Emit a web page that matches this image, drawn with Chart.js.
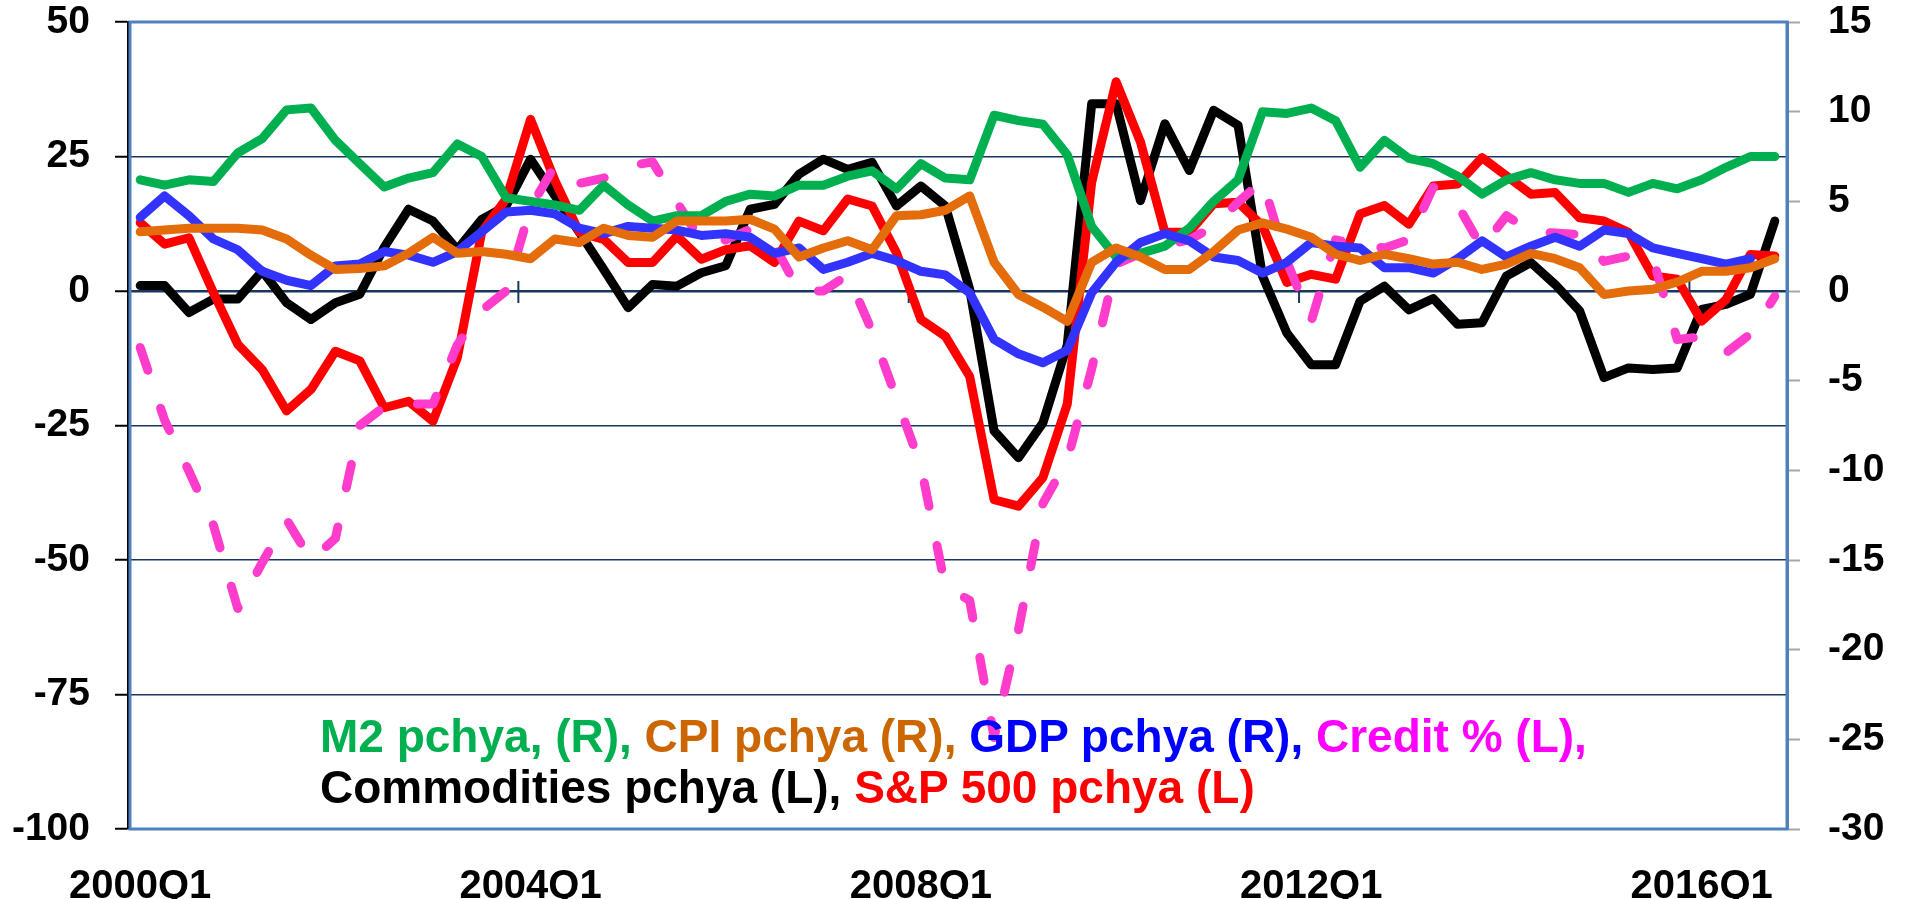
<!DOCTYPE html>
<html>
<head>
<meta charset="utf-8">
<title>M2, CPI, GDP, Credit, Commodities, S&amp;P 500</title>
<script src="https://cdn.jsdelivr.net/npm/chart.js@4.4.1/dist/chart.umd.min.js"></script>
<style>
  html, body { margin: 0; padding: 0; background: #fff; overflow: hidden; }
  #wrap { position: relative; width: 1905px; height: 899px; }
  #legend {
    position: absolute; left: 320px; top: 711px;
    font: bold 46px "Liberation Sans", Arial, sans-serif;
    line-height: 51px; white-space: nowrap;
  }
</style>
</head>
<body>
<div id="wrap">
  <canvas id="chart" width="1905" height="899"></canvas>
  <div id="legend">
    <span style="color:#00B050">M2 pchya, (R),</span> <span style="color:#CC6600">CPI pchya (R),</span> <span style="color:#0000FF">GDP pchya (R),</span> <span style="color:#FF00FF">Credit % (L),</span><br>
    <span style="color:#000">Commodities pchya (L),</span> <span style="color:#FF0000">S&amp;P 500 pchya (L)</span>
  </div>
</div>
<script>
// quarters 2000Q1 .. 2016Q4
var years = [2000, 2001, 2002, 2003, 2004, 2005, 2006, 2007, 2008,
             2009, 2010, 2011, 2012, 2013, 2014, 2015, 2016];
var quarters = [];
years.forEach(y => ['Q1', 'Q2', 'Q3', 'Q4'].forEach(q => quarters.push(y + q)));

var xTickLabels = ['2000Q1', '2004Q1', '2008Q1', '2012Q1', '2016Q1'];
var leftTicks = [-100, -75, -50, -25, 0, 25, 50];
var rightTicks = [-30, -25, -20, -15, -10, -5, 0, 5, 10, 15];

// right axis series (% yoy)
var m2 = [
  6.2, 5.9, 6.2, 6.1, 7.7, 8.5, 10.1, 10.2, 8.4, 7.1,
  5.8, 6.3, 6.6, 8.2, 7.5, 5.2, 5.0, 4.8, 4.5, 5.9,
  4.8, 3.9, 4.2, 4.2, 5.0, 5.4, 5.3, 5.9, 5.9, 6.4,
  6.7, 5.7, 7.1, 6.3, 6.2, 9.8, 9.5, 9.3, 7.6, 3.6,
  1.9, 2.1, 2.5, 3.5, 5.0, 6.2, 10.0, 9.9, 10.2, 9.5,
  6.9, 8.4, 7.4, 7.1, 6.4, 5.4, 6.2, 6.6, 6.2, 6.0,
  6.0, 5.5, 6.0, 5.7, 6.2, 6.9, 7.5, 7.5
];
var cpi = [
  3.3, 3.4, 3.5, 3.5, 3.5, 3.4, 2.9, 2.0, 1.2, 1.25,
  1.4, 2.1, 3.0, 2.1, 2.2, 2.05, 1.8, 2.9, 2.7, 3.5,
  3.1, 3.0, 3.9, 3.9, 3.9, 4.0, 3.45, 1.9, 2.4, 2.8,
  2.3, 4.2, 4.25, 4.5, 5.3, 1.6, -0.2, -0.9, -1.7, 1.6,
  2.4, 1.9, 1.2, 1.2, 2.2, 3.4, 3.8, 3.45, 3.0, 2.05,
  1.7, 2.05, 1.8, 1.5, 1.6, 1.2, 1.5, 2.1, 1.8, 1.3,
  -0.2, 0.0, 0.1, 0.5, 1.1, 1.1, 1.3, 1.8
];
var gdp = [
  4.1, 5.3, 4.2, 2.9, 2.3, 1.1, 0.6, 0.3, 1.4, 1.5,
  2.2, 2.0, 1.6, 2.2, 3.3, 4.4, 4.5, 4.3, 3.5, 3.2,
  3.6, 3.5, 3.4, 3.1, 3.2, 3.0, 2.1, 2.4, 1.2, 1.6,
  2.1, 1.7, 1.1, 0.9, -0.1, -2.7, -3.5, -4.0, -3.3, -0.1,
  1.6, 2.7, 3.2, 2.8, 1.9, 1.7, 1.0, 1.6, 2.7, 2.5,
  2.4, 1.3, 1.3, 1.0, 1.8, 2.8, 1.9, 2.5, 3.0, 2.5,
  3.4, 3.2, 2.4, 2.1, 1.8, 1.5, 1.8, null
];

// left axis series
var credit = [
  -10.5, -24, -33.5, -43.5, -59, -50.5, -42.5, -50, -46, -25,
  -21.5, -21, -21, -10, -3.6, 0, 15.5, 23.3, 20, 21,
  23.2, 24, 16.5, 9.3, 9.5, 11.5, 8.5, 0, 0, 3,
  -7.5, -20, -32.5, -55, -57.5, -83, -63, -39.5, -31.5, -14.5,
  5, 7, 8.5, 9.5, 12, 16.5, 20.5, 5.5, -5.6, 9.5,
  8.5, 8, 9.5, 19.3, 16, 8, 14, 11, 10.8, 10.5,
  5.5, 6.5, 6, -9, -8.5, -11.5, -8, -1
];
var commodities = [
  1, 1, -4, -1.5, -1.5, 3.7, -2.2, -5.3, -2.2, -0.6,
  8.1, 15.2, 13, 7.7, 13.3, 15.8, 24.5, 17.7, 10.9, 4,
  -3.1, 1.2, 0.9, 3.4, 4.7, 15.2, 16.1, 21.7, 24.5, 22.6,
  23.9, 15.8, 19.5, 15.8, 0.3, -26, -31, -24.5, -10, 34.8,
  34.8, 16.8, 31.1, 22.4, 33.6, 30.8, 2.8, -7.8, -13.7, -13.7,
  -1.9, 0.9, -3.5, -1.4, -6.2, -5.9, 2.8, 5.3, 1.2, -3.7,
  -16.1, -14.3, -14.6, -14.3, -3.4, -2.5, -0.6, 13
];
var sp500 = [
  12.7, 8.7, 9.9, -0.3, -9.9, -14.6, -22.3, -18.3, -11.2, -13.0,
  -21.7, -20.5, -24.2, -12.4, 11, 17.1, 31.9, 20.5, 10.9, 9.6,
  5.3, 5.3, 10.2, 5.9, 7.7, 8.4, 5.3, 13, 11.2, 17.1,
  15.8, 7.1, -5.3, -8.4, -15.9, -38.8, -40, -34.7, -21, 20.2,
  38.9, 27.7, 10.9, 10.9, 16.2, 16.5, 12.1, 1.6, 3.1, 2.2,
  14.3, 15.9, 12.4, 19.5, 19.9, 24.8, 21.4, 18, 18.3, 13.6,
  13, 10.9, 2.8, 2.2, -5.6, -1.6, 6.8, 6.5
];

var FONT = '"Liberation Sans", Arial, sans-serif';
var NAVY = '#17375E';

function line(label, data, color, axis, order, dash) {
    return {
        label: label,
        data: data,
        yAxisID: axis,
        order: order,
        borderColor: color,
        backgroundColor: color,
        borderWidth: 9,
        borderDash: dash || [],
        borderCapStyle: 'round',
        borderJoinStyle: 'round',
        pointRadius: 0,
        tension: 0,
        fill: false
    };
}

// plot frame + the little cross marks on the zero axis
var frame = {
    id: 'frame',
    beforeDatasetsDraw(chart) {
        var ctx = chart.ctx, a = chart.chartArea;
        var x = chart.scales.x, yL = chart.scales.yL;
        ctx.save();
        var y0 = yL.getPixelForValue(0);
        ctx.strokeStyle = NAVY;
        ctx.lineWidth = 2;
        xTickLabels.slice(1).forEach(l => {
            var i = quarters.indexOf(l);
            var bx = (x.getPixelForValue(i) + x.getPixelForValue(i - 1)) / 2;
            ctx.beginPath();
            ctx.moveTo(bx, y0 - 10);
            ctx.lineTo(bx, y0 + 12);
            ctx.stroke();
        });
        ctx.strokeStyle = '#4F81BD';
        ctx.lineWidth = 3;
        ctx.strokeRect(a.left + 2, a.top, a.right - a.left - 2, a.bottom - a.top);
        ctx.restore();
    }
};

var tickFont = { family: FONT, size: 39, weight: 'bold', lineHeight: 1 };

// fixed widths, and no extra room above/below (ticks.padding would add it)
function fitY(width) {
    return s => {
        s.width = width;
        s.paddingTop = 0;
        s.paddingBottom = 0;
    };
}

new Chart(document.getElementById('chart'), {
    type: 'line',
    data: {
        labels: quarters,
        datasets: [
            line('Commodities pchya (L)', commodities, '#000000', 'yL', 6),
            line('S&P 500 pchya (L)', sp500, '#FF0000', 'yL', 5),
            line('Credit % (L)', credit, '#FF3CCB', 'yL', 4, [24, 40]),
            line('M2 pchya, (R)', m2, '#00B050', 'yR', 3),
            line('GDP pchya (R)', gdp, '#3333FF', 'yR', 2),
            line('CPI pchya (R)', cpi, '#E46C0A', 'yR', 1)
        ]
    },
    options: {
        responsive: false,
        animation: false,
        devicePixelRatio: 1,
        layout: { padding: { top: 22, left: 0, right: 0, bottom: 0 } },
        plugins: {
            legend: { display: false },
            tooltip: { enabled: false }
        },
        scales: {
            x: {
                type: 'category',
                offset: true,
                grid: { display: false },
                border: { display: false },
                ticks: {
                    autoSkip: false,
                    maxRotation: 0,
                    minRotation: 0,
                    padding: 30,
                    color: '#000',
                    font: { family: FONT, size: 40, weight: 'bold', lineHeight: 1 },
                    callback: function(v, i) {
                        var l = quarters[i];
                        return xTickLabels.indexOf(l) >= 0 ? l : '';
                    }
                },
                afterFit: s => { s.height = 70; }
            },
            yL: {
                position: 'left',
                min: leftTicks[0],
                max: leftTicks[leftTicks.length - 1],
                afterBuildTicks: s => { s.ticks = leftTicks.map(v => ({ value: v })); },
                ticks: { padding: 25, color: '#000', font: tickFont },
                grid: {
                    color: NAVY,
                    lineWidth: c => (c.tick && c.tick.value === 0) ? 2.5 : 1.5,
                    tickLength: 13,
                    tickColor: '#000',
                    tickWidth: 2
                },
                border: { color: '#000', width: 2 },
                afterFit: fitY(128)
            },
            yR: {
                position: 'right',
                min: rightTicks[0],
                max: rightTicks[rightTicks.length - 1],
                afterBuildTicks: s => { s.ticks = rightTicks.map(v => ({ value: v })); },
                ticks: { padding: 28, color: '#000', font: tickFont },
                grid: {
                    drawOnChartArea: false,
                    tickLength: 13,
                    color: '#A6A6A6',
                    tickWidth: 2
                },
                border: { color: '#4F81BD', width: 3 },
                afterFit: fitY(118)
            }
        }
    },
    plugins: [frame]
});
</script>
</body>
</html>
